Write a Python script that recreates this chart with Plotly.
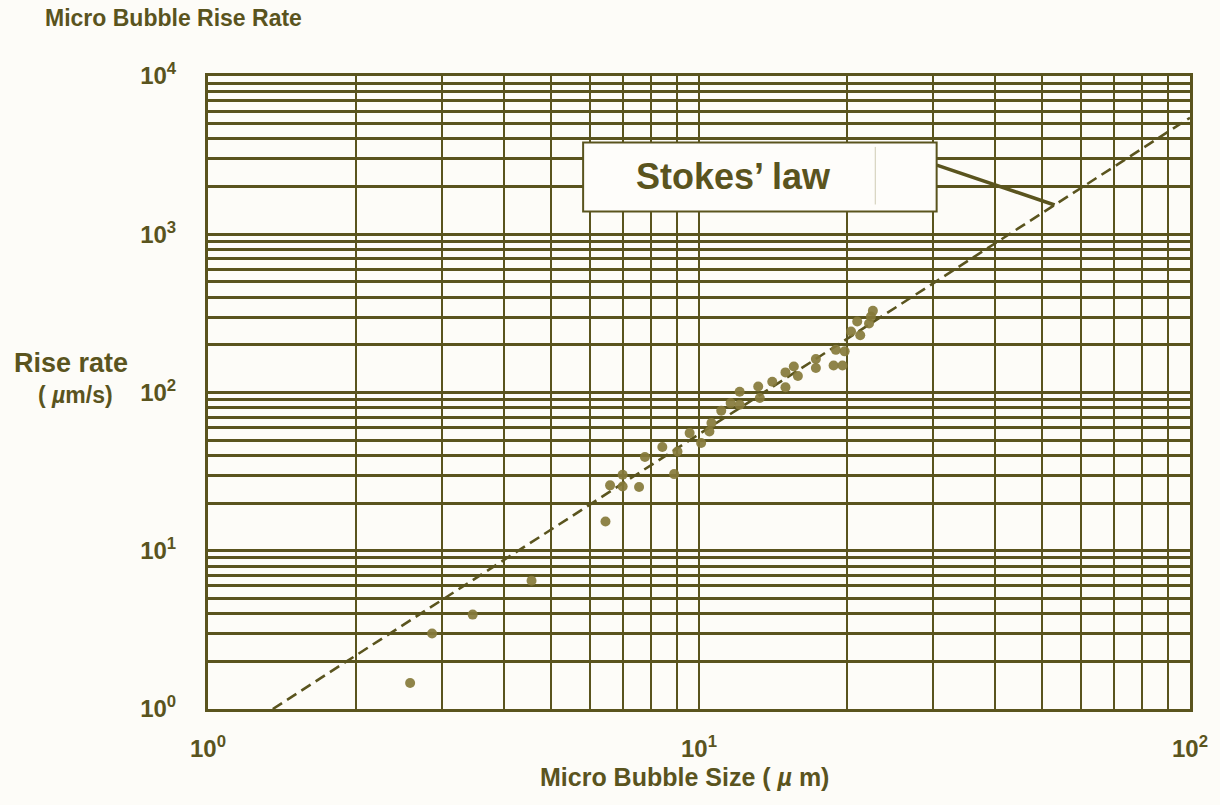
import plotly.graph_objects as go

# Measured micro bubble diameters (um) and rise rates (um/s)
bubble_size = [2.58, 2.86, 3.46, 4.56, 6.45, 6.59, 6.99, 6.99, 7.55, 7.76,
               8.42, 8.90, 9.04, 9.57, 10.1, 10.5, 10.6, 11.1, 11.6, 12.1,
               12.1, 13.2, 13.3, 14.1, 15.0, 15.0, 15.6, 15.9, 17.3, 17.3,
               18.8, 19.6, 19.0, 19.8, 20.4, 21.3, 21.0, 22.2, 22.4, 22.6]
rise_rate = [1.46, 3.0, 3.95, 6.47, 15.3, 25.9, 30.2, 25.5, 25.3, 39.1,
             45.2, 30.5, 42.4, 55.4, 48.0, 56.7, 64.1, 76.6, 85.7, 101,
             83.6, 109, 92.2, 117, 108, 134, 146, 127, 163, 143,
             148, 148, 186, 182, 243, 230, 281, 273, 302, 328]

# Stokes' law reference line end points (um, um/s)
stokes_size = [1.355, 100]
stokes_rate = [1.0, 5450]

# Leader from the label box to the Stokes' line (um, um/s)
leader_size = [30.5, 53.0]
leader_rate = [2731, 1531]

# Decade ticks with labels, and log-paper grid on every other digit
x_major = [1, 10, 100]
y_major = [1, 10, 100, 1000, 10000]
x_ticktext = ["10<sup>0</sup>", "10<sup>1</sup>", "10<sup>2</sup>"]
y_ticktext = ["10<sup>0</sup>", "10<sup>1</sup>", "10<sup>2</sup>",
              "10<sup>3</sup>", "10<sup>4</sup>"]
digits = [2, 3, 4, 5, 6, 7, 8, 9]

x_minor = [d * k for d in x_major[:-1] for k in digits]
y_minor = [d * k for d in y_major[:-1] for k in digits]

INK = "#5a541e"
DOT = "#86793a"
BG = "#fdfcf8"
FONT = "Liberation Sans, Arial, sans-serif"

fig = go.Figure()

fig.add_trace(go.Scatter(
    x=stokes_size, y=stokes_rate, mode="lines",
    line=dict(color=INK, width=2.6, dash="11px,6px"),
    hoverinfo="skip", showlegend=False,
))

fig.add_trace(go.Scatter(
    x=bubble_size, y=rise_rate, mode="markers",
    marker=dict(size=10, color=DOT, opacity=0.92, line=dict(width=0)),
    showlegend=False,
))

fig.add_trace(go.Scatter(
    x=leader_size, y=leader_rate, mode="lines",
    line=dict(color=INK, width=3.5),
    hoverinfo="skip", showlegend=False,
))

axis_common = dict(
    type="log",
    showgrid=True, gridcolor=INK,
    showline=True, mirror=True, linecolor=INK, linewidth=3,
    ticks="", zeroline=False,
    tickfont=dict(family=FONT, size=24, color=INK, weight="bold"),
)

fig.update_xaxes(
    **axis_common, range=[0, 2], gridwidth=2,
    tickmode="array", tickvals=x_major, ticktext=x_ticktext,
    ticklabelstandoff=16,
    minor=dict(tickmode="array", tickvals=x_minor, showgrid=True,
               gridcolor=INK, gridwidth=2, ticks=""),
)
fig.update_yaxes(
    **axis_common, range=[0, 4], gridwidth=2.6,
    tickmode="array", tickvals=y_major, ticktext=y_ticktext,
    ticklabelstandoff=24,
    minor=dict(tickmode="array", tickvals=y_minor, showgrid=True,
               gridcolor=INK, gridwidth=2.6, ticks=""),
)

# Label box for the Stokes' law line
fig.add_shape(type="rect", xref="paper", yref="paper",
              x0=0.382, x1=0.742, y0=0.786, y1=0.895,
              fillcolor="#fefdfa", line=dict(color=INK, width=2), layer="above")
fig.add_shape(type="line", xref="paper", yref="paper",
              x0=0.6795, x1=0.6795, y0=0.797, y1=0.888,
              line=dict(color="#cfcbb4", width=1), layer="above")
fig.add_annotation(xref="paper", yref="paper", x=0.5355, y=0.841,
                   text="<b>Stokes’ law</b>", showarrow=False,
                   font=dict(family=FONT, size=36, color=INK),
                   xanchor="center", yanchor="middle")

# Titles
fig.add_annotation(xref="paper", yref="paper", x=-0.1684, y=1.0916,
                   text="<b>Micro Bubble Rise Rate</b>", showarrow=False,
                   font=dict(family=FONT, size=23, color=INK),
                   xanchor="left", yanchor="middle")
fig.add_annotation(xref="paper", yref="paper", x=-0.14, y=0.5468,
                   text="<b>Rise rate</b>", showarrow=False,
                   font=dict(family=FONT, size=27, color=INK),
                   xanchor="center", yanchor="middle")
fig.add_annotation(xref="paper", yref="paper", x=-0.135, y=0.4963,
                   text="<b>( <i>µ</i>m/s)</b>", showarrow=False,
                   font=dict(family=FONT, size=23, color=INK),
                   xanchor="center", yanchor="middle")
fig.add_annotation(xref="paper", yref="paper", x=0.4848, y=-0.1069,
                   text="<b>Micro Bubble Size ( <i>µ</i> m)</b>", showarrow=False,
                   font=dict(family=FONT, size=25, color=INK),
                   xanchor="center", yanchor="middle")

fig.update_layout(
    width=1220, height=805,
    margin=dict(l=208, r=26, t=76, b=96),
    paper_bgcolor=BG, plot_bgcolor=BG,
    showlegend=False,
)

fig.write_html("out.html")
